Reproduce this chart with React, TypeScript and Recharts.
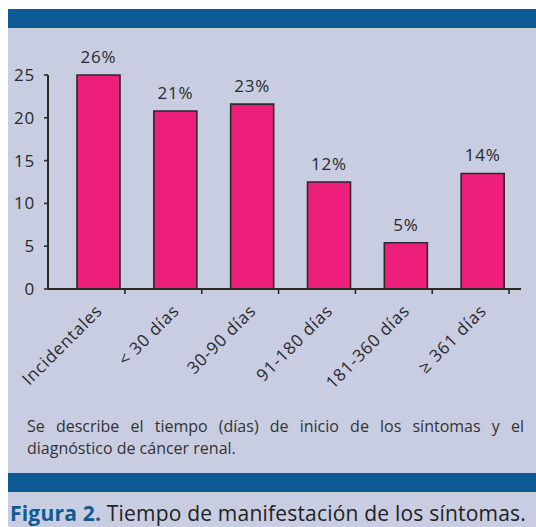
import React from "react";
import { BarChart, Bar, XAxis, YAxis, LabelList } from "recharts";

const categories = ["Incidentales", "< 30 días", "30-90 días", "91-180 días", "181-360 días", "≥ 361 días"];
const values = [25, 20.8, 21.6, 12.5, 5.4, 13.5];
const pctLabels = ["26%", "21%", "23%", "12%", "5%", "14%"];
const yTicks = [0, 5, 10, 15, 20, 25];

const BLUE = "#0d5a94";
const LAVENDER = "#c8cde2";
const PINK = "#ee1f7b";
const INK = "#2a2a2a";
const FONT = "'Open Sans', Lato, sans-serif";

const data = categories.map((name, i) => ({ name, value: values[i], pct: pctLabels[i] }));

function CategoryTick(props: any) {
  const { x, y, payload } = props;
  const tx = x + 5;
  const ty = y + 23;
  return (
    <g>
      <line x1={x + 26.5} y1={y} x2={x + 26.5} y2={y + 5} stroke={INK} strokeWidth={1.6} />
      <text
        x={tx}
        y={ty}
        textAnchor="end"
        transform={`rotate(-45, ${tx}, ${ty})`}
        fill={INK}
        fontSize={17}
        letterSpacing={0.8}
        fontFamily={FONT}
      >
        {payload.value}
      </text>
    </g>
  );
}

export default function App() {
  return (
    <div style={{ position: "absolute", left: 0, top: 0, width: 536, height: 527, background: "#fff", overflow: "hidden", fontFamily: FONT }}>
      <div style={{ position: "absolute", left: 8, top: 9, width: 528, height: 19, background: BLUE }} />
      <div style={{ position: "absolute", left: 8, top: 28, width: 528, height: 445, background: LAVENDER }} />
      <div style={{ position: "absolute", left: 8, top: 473, width: 528, height: 19, background: BLUE }} />
      <div style={{ position: "absolute", left: 8, top: 492, width: 528, height: 35, background: LAVENDER }} />

      <div style={{ position: "absolute", left: 0, top: 0 }}>
        <BarChart width={536} height={400} data={data} margin={{ top: 75, right: 15, bottom: 0, left: 0 }}>
          <YAxis
            width={48}
            domain={[0, 25]}
            ticks={yTicks}
            tickSize={4}
            tickMargin={9}
            axisLine={{ stroke: INK, strokeWidth: 2 }}
            tickLine={{ stroke: INK, strokeWidth: 1.6 }}
            tick={{ fill: INK, fontSize: 17, fontFamily: FONT, letterSpacing: 0.8 }}
          />
          <XAxis
            dataKey="name"
            height={111}
            padding={{ left: 12, right: 0 }}
            interval={0}
            tickSize={0}
            tickMargin={0}
            tickLine={false}
            axisLine={{ stroke: INK, strokeWidth: 2 }}
            tick={<CategoryTick />}
          />
          <Bar dataKey="value" fill={PINK} stroke={INK} strokeWidth={1.6} barSize={43} isAnimationActive={false}>
            <LabelList dataKey="pct" position="top" offset={12} fill={INK} fontSize={17} fontFamily={FONT} letterSpacing={0.8} />
          </Bar>
        </BarChart>
      </div>

      <div style={{ position: "absolute", left: 27, top: 415, width: 497, fontSize: 16, lineHeight: "22px", color: "#333" }}>
        <div style={{ textAlign: "justify", textAlignLast: "justify" }}>
          Se describe el tiempo (días) de inicio de los síntomas y el
        </div>
        <div>diagnóstico de cáncer renal.</div>
      </div>

      <div style={{ position: "absolute", left: 10, top: 500, whiteSpace: "nowrap", fontSize: 21, letterSpacing: 0.2, lineHeight: "26px", color: "#222" }}>
        <span style={{ color: BLUE, fontWeight: 700 }}>Figura 2.</span> Tiempo de manifestación de los síntomas.
      </div>
    </div>
  );
}
